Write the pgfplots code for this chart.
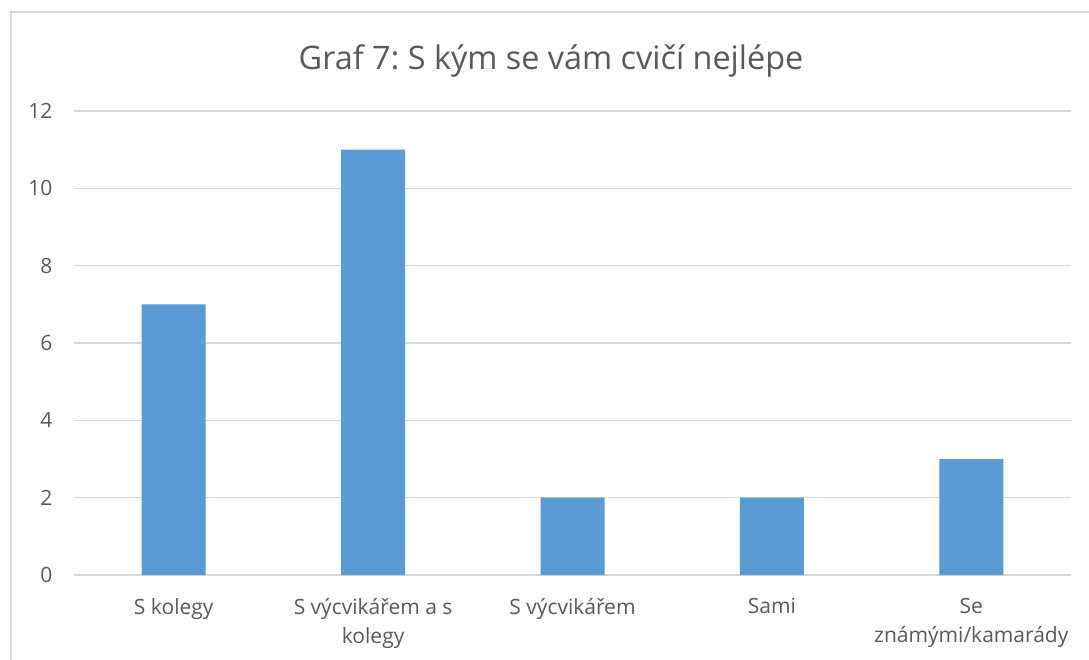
\documentclass[border=0pt]{standalone}
\usepackage{fontspec}
\setmainfont{Open Sans}
\usepackage{pgfplots}
\pgfplotsset{compat=1.18}
\definecolor{barblue}{HTML}{5B9BD5}
\definecolor{txt}{HTML}{595959}
\definecolor{gridc}{HTML}{D9D9D9}
\frenchspacing
\begin{document}
\begin{tikzpicture}[x=1pt,y=1pt]
\useasboundingbox (0,0) rectangle (1089,659);
% chart frame (only top and left visible in the reference)
\draw[gridc, line width=2pt] (11,-5) -- (11,647) -- (1095,647);
\node[txt, font=\fontsize{32.4}{36}\selectfont, anchor=base] at (551,589) {Graf 7: S kým se vám cvičí nejlépe};
\begin{axis}[
  at={(74pt,84pt)}, anchor=south west,
  scale only axis,
  width=997pt, height=464pt,
  ybar, bar width=64pt,
  xmin=-0.5, xmax=4.5,
  ymin=0, ymax=12,
  ytick={0,2,...,12},
  xtick=data,
  xticklabels={S kolegy, {S výcvikářem a s\\kolegy}, S výcvikářem, Sami, {Se\\známými/kamarády}},
  xticklabel style={align=center, font=\fontsize{21}{29}\selectfont, text=txt, anchor=north, yshift=-20pt},
  yticklabel style={font=\fontsize{21}{25}\selectfont, text=txt, xshift=-18pt},
  /pgf/number format/assume math mode=true,
  major tick length=0pt,
  ymajorgrids,
  major grid style={draw=gridc, line width=1.3pt},
  axis x line*=bottom, axis y line*=left,
  x axis line style={draw=gridc, line width=1.3pt, -},
  y axis line style={draw=none, -},
]
\addplot[draw=none, fill=barblue] coordinates {
  (0,7) (1,11) (2,2) (3,2) (4,3)
};
\end{axis}
\end{tikzpicture}
\end{document}
